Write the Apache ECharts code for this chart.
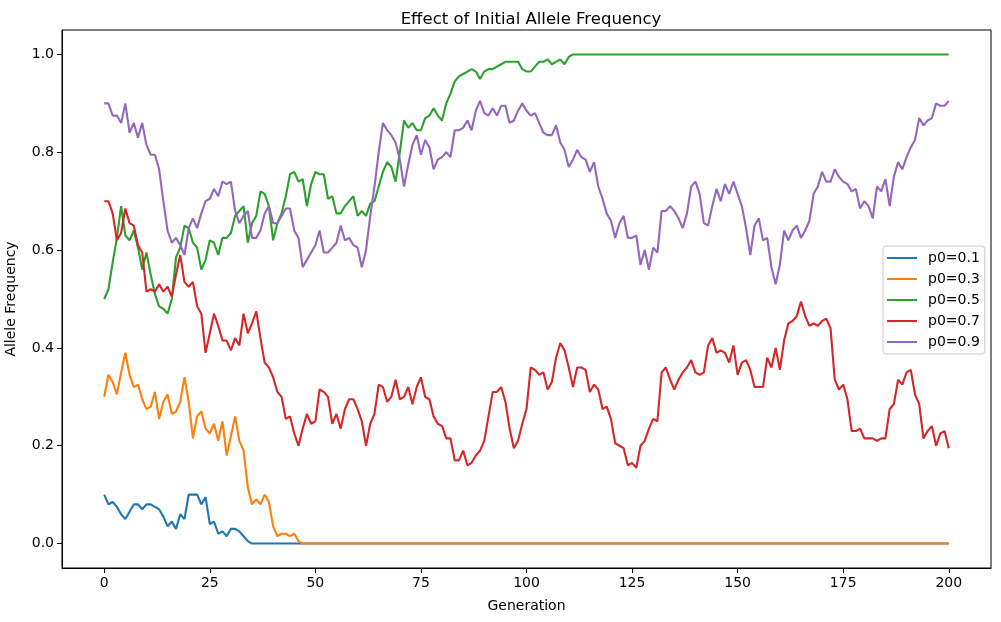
<!DOCTYPE html>
<html>
<head>
<meta charset="utf-8">
<title>Effect of Initial Allele Frequency</title>
<script src="https://cdn.jsdelivr.net/npm/echarts@6/dist/echarts.min.js"></script>
<style>
  html, body { margin: 0; padding: 0; background: #fff; }
  #allele-chart { width: 1001px; height: 622px; }
</style>
</head>
<body>
<div id="allele-chart"></div>
<script>
// values, one per generation 0..200
var p01 = [
  0.10, 0.08, 0.085, 0.075, 0.06, 0.05, 0.065, 0.08, 0.08, 0.07,
  0.08, 0.08, 0.075, 0.07, 0.055, 0.035, 0.045, 0.03, 0.06, 0.05,
  0.10, 0.10, 0.10, 0.08, 0.095, 0.04, 0.045, 0.02, 0.025, 0.015,
  0.03, 0.03, 0.025, 0.015, 0.005,
  0, 0, 0, 0, 0, 0, 0, 0, 0, 0,
  0, 0, 0, 0, 0, 0, 0, 0, 0, 0,
  0, 0, 0, 0, 0, 0, 0, 0, 0, 0,
  0, 0, 0, 0, 0, 0, 0, 0, 0, 0,
  0, 0, 0, 0, 0, 0, 0, 0, 0, 0,
  0, 0, 0, 0, 0, 0, 0, 0, 0, 0,
  0, 0, 0, 0, 0, 0, 0, 0, 0, 0,
  0, 0, 0, 0, 0, 0, 0, 0, 0, 0,
  0, 0, 0, 0, 0, 0, 0, 0, 0, 0,
  0, 0, 0, 0, 0, 0, 0, 0, 0, 0,
  0, 0, 0, 0, 0, 0, 0, 0, 0, 0,
  0, 0, 0, 0, 0, 0, 0, 0, 0, 0,
  0, 0, 0, 0, 0, 0, 0, 0, 0, 0,
  0, 0, 0, 0, 0, 0, 0, 0, 0, 0,
  0, 0, 0, 0, 0, 0, 0, 0, 0, 0,
  0, 0, 0, 0, 0, 0, 0, 0, 0, 0,
  0, 0, 0, 0, 0, 0
];
var p03 = [
  0.30, 0.345, 0.33, 0.305, 0.35, 0.39, 0.345, 0.32, 0.325, 0.295,
  0.275, 0.28, 0.31, 0.255, 0.29, 0.305, 0.265, 0.27, 0.29, 0.34,
  0.29, 0.215, 0.26, 0.27, 0.235, 0.225, 0.245, 0.21, 0.25, 0.18,
  0.22, 0.26, 0.21, 0.19, 0.115, 0.08, 0.09, 0.08, 0.10, 0.085,
  0.035, 0.015, 0.02, 0.02, 0.015, 0.02, 0.005,
  0, 0, 0, 0, 0, 0, 0, 0, 0, 0,
  0, 0, 0, 0, 0, 0, 0, 0, 0, 0,
  0, 0, 0, 0, 0, 0, 0, 0, 0, 0,
  0, 0, 0, 0, 0, 0, 0, 0, 0, 0,
  0, 0, 0, 0, 0, 0, 0, 0, 0, 0,
  0, 0, 0, 0, 0, 0, 0, 0, 0, 0,
  0, 0, 0, 0, 0, 0, 0, 0, 0, 0,
  0, 0, 0, 0, 0, 0, 0, 0, 0, 0,
  0, 0, 0, 0, 0, 0, 0, 0, 0, 0,
  0, 0, 0, 0, 0, 0, 0, 0, 0, 0,
  0, 0, 0, 0, 0, 0, 0, 0, 0, 0,
  0, 0, 0, 0, 0, 0, 0, 0, 0, 0,
  0, 0, 0, 0, 0, 0, 0, 0, 0, 0,
  0, 0, 0, 0, 0, 0, 0, 0, 0, 0,
  0, 0, 0, 0, 0, 0, 0, 0, 0, 0,
  0, 0, 0, 0
];
var p05 = [
  0.50, 0.52, 0.575, 0.625, 0.69, 0.63, 0.62, 0.64, 0.605, 0.56,
  0.595, 0.55, 0.51, 0.485, 0.48, 0.47, 0.50, 0.585, 0.605, 0.65,
  0.645, 0.615, 0.605, 0.56, 0.58, 0.62, 0.615, 0.59, 0.625, 0.625,
  0.635, 0.67, 0.68, 0.69, 0.615, 0.655, 0.67, 0.72, 0.715, 0.69,
  0.62, 0.655, 0.675, 0.71, 0.755, 0.76, 0.74, 0.745, 0.69, 0.735,
  0.76, 0.755, 0.755, 0.705, 0.71, 0.675, 0.675, 0.69, 0.70, 0.71,
  0.67, 0.68, 0.67, 0.695, 0.70, 0.73, 0.76, 0.78, 0.77, 0.74,
  0.80, 0.865, 0.85, 0.86, 0.845, 0.845, 0.87, 0.875, 0.89, 0.875,
  0.865, 0.90, 0.92, 0.945, 0.955, 0.96, 0.965, 0.97, 0.965, 0.95,
  0.965, 0.97, 0.97, 0.975, 0.98, 0.985, 0.985, 0.985, 0.985, 0.97,
  0.965, 0.965, 0.975, 0.985, 0.985, 0.99, 0.98, 0.985, 0.99, 0.98,
  0.995, 1.0,
  1, 1, 1, 1, 1, 1, 1, 1, 1, 1,
  1, 1, 1, 1, 1, 1, 1, 1, 1, 1,
  1, 1, 1, 1, 1, 1, 1, 1, 1, 1,
  1, 1, 1, 1, 1, 1, 1, 1, 1, 1,
  1, 1, 1, 1, 1, 1, 1, 1, 1, 1,
  1, 1, 1, 1, 1, 1, 1, 1, 1, 1,
  1, 1, 1, 1, 1, 1, 1, 1, 1, 1,
  1, 1, 1, 1, 1, 1, 1, 1, 1, 1,
  1, 1, 1, 1, 1, 1, 1, 1, 1
];
var p07 = [
  0.70, 0.70, 0.675, 0.62, 0.635, 0.685, 0.655, 0.65, 0.61, 0.595,
  0.515, 0.52, 0.515, 0.53, 0.515, 0.525, 0.505, 0.55, 0.59, 0.535,
  0.525, 0.535, 0.485, 0.47, 0.39, 0.43, 0.47, 0.445, 0.415, 0.415,
  0.395, 0.42, 0.405, 0.47, 0.43, 0.45, 0.475, 0.42, 0.37, 0.36,
  0.34, 0.31, 0.30, 0.255, 0.26, 0.225, 0.20, 0.235, 0.265, 0.245,
  0.25, 0.315, 0.31, 0.30, 0.245, 0.265, 0.235, 0.275, 0.295, 0.295,
  0.275, 0.25, 0.20, 0.245, 0.265, 0.325, 0.32, 0.29, 0.30, 0.335,
  0.295, 0.30, 0.32, 0.285, 0.32, 0.34, 0.30, 0.295, 0.26, 0.245,
  0.24, 0.215, 0.215, 0.17, 0.17, 0.19, 0.16, 0.165, 0.18, 0.19,
  0.21, 0.26, 0.31, 0.31, 0.32, 0.29, 0.235, 0.195, 0.21, 0.245,
  0.275, 0.36, 0.355, 0.345, 0.35, 0.315, 0.33, 0.38, 0.41, 0.395,
  0.36, 0.32, 0.36, 0.36, 0.355, 0.31, 0.325, 0.315, 0.275, 0.28,
  0.255, 0.205, 0.20, 0.195, 0.16, 0.165, 0.155, 0.20, 0.21, 0.235,
  0.255, 0.25, 0.35, 0.36, 0.335, 0.315, 0.335, 0.35, 0.36, 0.375,
  0.35, 0.345, 0.35, 0.405, 0.42, 0.39, 0.395, 0.39, 0.37, 0.405,
  0.345, 0.37, 0.375, 0.355, 0.32, 0.32, 0.32, 0.38, 0.36, 0.40,
  0.355, 0.415, 0.45, 0.455, 0.465, 0.495, 0.465, 0.445, 0.45, 0.445,
  0.455, 0.46, 0.44, 0.335, 0.315, 0.325, 0.295, 0.23, 0.23, 0.235,
  0.215, 0.215, 0.215, 0.21, 0.215, 0.215, 0.275, 0.285, 0.335, 0.325,
  0.35, 0.355, 0.305, 0.285, 0.215, 0.23, 0.24, 0.20, 0.225, 0.23,
  0.195
];
var p09 = [
  0.90, 0.90, 0.875, 0.875, 0.86, 0.90, 0.84, 0.86, 0.83, 0.86,
  0.815, 0.795, 0.795, 0.765, 0.70, 0.64, 0.615, 0.625, 0.61, 0.59,
  0.645, 0.665, 0.645, 0.675, 0.70, 0.705, 0.725, 0.71, 0.74, 0.735,
  0.74, 0.68, 0.655, 0.67, 0.68, 0.625, 0.625, 0.64, 0.675, 0.69,
  0.655, 0.655, 0.67, 0.685, 0.685, 0.64, 0.625, 0.565, 0.58, 0.595,
  0.61, 0.64, 0.595, 0.595, 0.605, 0.615, 0.65, 0.62, 0.625, 0.61,
  0.605, 0.565, 0.60, 0.67, 0.73, 0.80, 0.86, 0.845, 0.835, 0.82,
  0.785, 0.73, 0.775, 0.815, 0.835, 0.795, 0.825, 0.81, 0.765, 0.785,
  0.79, 0.80, 0.79, 0.845, 0.845, 0.85, 0.865, 0.845, 0.885, 0.905,
  0.88, 0.875, 0.89, 0.875, 0.895, 0.895, 0.86, 0.865, 0.885, 0.90,
  0.885, 0.875, 0.88, 0.86, 0.84, 0.835, 0.835, 0.855, 0.82, 0.805,
  0.77, 0.785, 0.805, 0.79, 0.785, 0.76, 0.78, 0.73, 0.705, 0.675,
  0.66, 0.625, 0.655, 0.67, 0.625, 0.625, 0.63, 0.57, 0.60, 0.56,
  0.605, 0.595, 0.68, 0.68, 0.69, 0.68, 0.665, 0.645, 0.675, 0.73,
  0.74, 0.715, 0.655, 0.65, 0.69, 0.725, 0.70, 0.735, 0.715, 0.74,
  0.715, 0.69, 0.645, 0.59, 0.65, 0.665, 0.62, 0.625, 0.565, 0.53,
  0.57, 0.64, 0.62, 0.64, 0.65, 0.625, 0.64, 0.66, 0.715, 0.73,
  0.76, 0.74, 0.74, 0.765, 0.75, 0.74, 0.735, 0.72, 0.725, 0.685,
  0.70, 0.69, 0.665, 0.73, 0.72, 0.745, 0.69, 0.75, 0.78, 0.765,
  0.79, 0.81, 0.825, 0.87, 0.855, 0.865, 0.87, 0.90, 0.895, 0.895,
  0.905
];

var series_names = ['p0=0.1', 'p0=0.3', 'p0=0.5', 'p0=0.7', 'p0=0.9'];
var series_values = [p01, p03, p05, p07, p09];
var series_colors = ['#1f77b4', '#ff7f0e', '#2ca02c', '#d62728', '#9467bd'];
var x_ticks = [0, 25, 50, 75, 100, 125, 150, 175, 200];
var y_ticks = [0, 0.2, 0.4, 0.6, 0.8, 1.0];

function draw_allele_chart() {
  var allele_chart = echarts.init(document.getElementById('allele-chart'), null, { renderer: 'canvas' });
  var font = 'DejaVu Sans';

  var series = [];
  for (var i = 0; i < series_names.length; i++) {
    // pair each value with its generation index
    var points = series_values[i].map(function (v, g) {
      return [g, v];
    });
    series.push({
      name: series_names[i],
      type: 'line',
      data: points,
      showSymbol: false,
      symbol: 'none',
      color: series_colors[i],
      lineStyle: { width: 2.1, color: series_colors[i] },
      z: 2 + i
    });
  }

  var option = {
    animation: false,
    backgroundColor: '#fff',
    textStyle: { fontFamily: font, color: '#000' },
    title: {
      text: 'Effect of Initial Allele Frequency',
      left: 526,
      textAlign: 'center',
      top: 6,
      textStyle: { fontFamily: font, fontSize: 16.5, fontWeight: 'normal', color: '#000' }
    },
    legend: {
      data: series_names,
      orient: 'vertical',
      left: 883,
      top: 246,
      padding: [5, 5, 5, 4],
      itemGap: 7,
      itemWidth: 30,
      itemHeight: 2,
      icon: 'rect',
      backgroundColor: 'rgba(255,255,255,0.8)',
      borderColor: '#cccccc',
      borderWidth: 1,
      borderRadius: 3,
      textStyle: { fontFamily: font, fontSize: 14, color: '#000', lineHeight: 14, padding: [0, 0, 0, 6] }
    },
    grid: {
      left: 62,
      right: 10,
      top: 30,
      bottom: 54,
      containLabel: false,
      outerBoundsMode: 'none',
      show: true,
      borderColor: '#000',
      borderWidth: 1,
      backgroundColor: 'transparent'
    },
    xAxis: {
      type: 'value',
      min: -10,
      max: 210,
      name: 'Generation',
      nameLocation: 'middle',
      nameGap: 31,
      nameTextStyle: { fontFamily: font, fontSize: 14, color: '#000' },
      axisLine: { show: true, onZero: false, lineStyle: { color: '#000', width: 1 } },
      axisTick: { show: true, length: 5, customValues: x_ticks, lineStyle: { color: '#000' } },
      axisLabel: { customValues: x_ticks, fontFamily: font, fontSize: 14, color: '#000', margin: 8 },
      splitLine: { show: false }
    },
    yAxis: {
      type: 'value',
      min: -0.05,
      max: 1.05,
      name: 'Allele Frequency',
      nameLocation: 'middle',
      nameGap: 44,
      nameTextStyle: { fontFamily: font, fontSize: 14, color: '#000' },
      axisLine: { show: true, onZero: false, lineStyle: { color: '#000', width: 1 } },
      axisTick: { show: true, length: 5, customValues: y_ticks, lineStyle: { color: '#000' } },
      axisLabel: {
        customValues: y_ticks,
        fontFamily: font,
        fontSize: 14,
        color: '#000',
        margin: 8,
        formatter: function (v) { return v.toFixed(1); }
      },
      splitLine: { show: false }
    },
    series: series
  };

  allele_chart.setOption(option);
  window.addEventListener('resize', function () {
    allele_chart.resize();
  });
}

draw_allele_chart();
</script>
</body>
</html>
